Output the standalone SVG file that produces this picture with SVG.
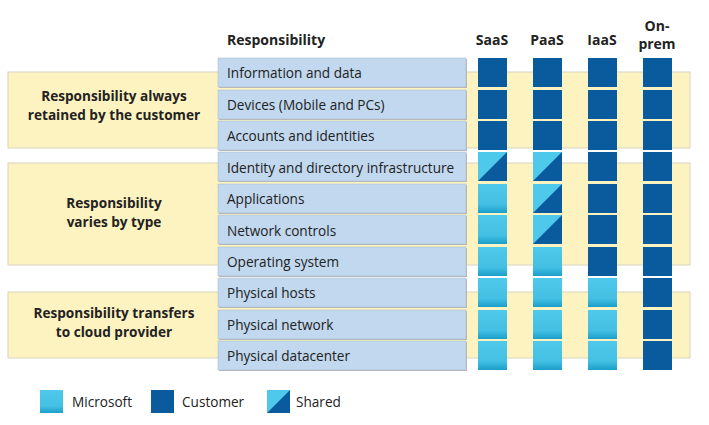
<svg xmlns="http://www.w3.org/2000/svg" width="709" height="425" viewBox="0 0 709 425">
<defs>
<linearGradient id="ms" x1="0" y1="0" x2="0" y2="1"><stop offset="0" stop-color="#4fc9eb"/><stop offset="0.7" stop-color="#44c0e4"/><stop offset="1" stop-color="#1a9fca"/></linearGradient>
<symbol id="M" viewBox="0 0 29 29"><rect width="29" height="29" fill="url(#ms)"/></symbol>
<symbol id="C" viewBox="0 0 29 29"><rect width="29" height="29" fill="#0a5b9d"/></symbol>
<symbol id="S" viewBox="0 0 29 29"><rect width="29" height="29" fill="#0a5b9d"/><polygon points="0,0 29,0 0,29" fill="#4fc9eb"/></symbol>
</defs>
<style>
.band{fill:#fdf3c0;stroke:#d8d4c0;stroke-width:1}
.row{fill:#c1d8ee;stroke:#a9b9c9;stroke-width:0.5}
.sh{fill:#b9b9b9}
text{font-family:"Open Sans","Noto Sans","Liberation Sans",sans-serif;fill:#222}
.t{font-size:13.6px}
.h{font-size:14px;font-weight:bold}
.g{font-size:13.6px;font-weight:bold;text-anchor:middle}
</style>
<rect width="709" height="425" fill="#fff"/>
<g id="bands">
<rect class="band" x="8" y="72" width="682" height="76"/>
<rect class="band" x="8" y="163" width="682" height="102"/>
<rect class="band" x="8" y="292" width="682" height="66"/>
</g>
<g id="group-labels">
<text class="g" x="114" y="101">Responsibility always</text>
<text class="g" x="114" y="120">retained by the customer</text>
<text class="g" x="114" y="208">Responsibility</text>
<text class="g" x="114" y="227">varies by type</text>
<text class="g" x="114" y="318">Responsibility transfers</text>
<text class="g" x="114" y="337">to cloud provider</text>
</g>
<g id="headers">
<text class="h" x="227" y="45">Responsibility</text>
<text class="h" x="492" y="45" text-anchor="middle">SaaS</text>
<text class="h" x="547" y="45" text-anchor="middle">PaaS</text>
<text class="h" x="602" y="45" text-anchor="middle">IaaS</text>
<text class="h" x="657" y="31" text-anchor="middle">On-</text>
<text class="h" x="657" y="49" text-anchor="middle">prem</text>
</g>
<g id="rows">
<g id="r0"><rect class="sh" x="219" y="59" width="248" height="29"/><rect class="row" x="218" y="58" width="248" height="29"/><text class="t" x="227" y="78">Information and data</text></g>
<g id="r1"><rect class="sh" x="219" y="91" width="248" height="29"/><rect class="row" x="218" y="90" width="248" height="29"/><text class="t" x="227" y="110">Devices (Mobile and PCs)</text></g>
<g id="r2"><rect class="sh" x="219" y="122" width="248" height="29"/><rect class="row" x="218" y="121" width="248" height="29"/><text class="t" x="227" y="141">Accounts and identities</text></g>
<g id="r3"><rect class="sh" x="219" y="153" width="248" height="29"/><rect class="row" x="218" y="152" width="248" height="29"/><text class="t" x="227" y="173">Identity and directory infrastructure</text></g>
<g id="r4"><rect class="sh" x="219" y="185" width="248" height="29"/><rect class="row" x="218" y="184" width="248" height="29"/><text class="t" x="227" y="204">Applications</text></g>
<g id="r5"><rect class="sh" x="219" y="216" width="248" height="29"/><rect class="row" x="218" y="215" width="248" height="29"/><text class="t" x="227" y="236">Network controls</text></g>
<g id="r6"><rect class="sh" x="219" y="248" width="248" height="29"/><rect class="row" x="218" y="247" width="248" height="29"/><text class="t" x="227" y="267">Operating system</text></g>
<g id="r7"><rect class="sh" x="219" y="279" width="248" height="29"/><rect class="row" x="218" y="278" width="248" height="29"/><text class="t" x="227" y="298">Physical hosts</text></g>
<g id="r8"><rect class="sh" x="219" y="311" width="248" height="29"/><rect class="row" x="218" y="310" width="248" height="29"/><text class="t" x="227" y="330">Physical network</text></g>
<g id="r9"><rect class="sh" x="219" y="342" width="248" height="29"/><rect class="row" x="218" y="341" width="248" height="29"/><text class="t" x="227" y="361">Physical datacenter</text></g>
</g>
<g id="cells">
<use href="#C" x="478" y="58" width="29" height="29"/><use href="#C" x="533" y="58" width="29" height="29"/><use href="#C" x="588" y="58" width="29" height="29"/><use href="#C" x="643" y="58" width="29" height="29"/>
<use href="#C" x="478" y="90" width="29" height="29"/><use href="#C" x="533" y="90" width="29" height="29"/><use href="#C" x="588" y="90" width="29" height="29"/><use href="#C" x="643" y="90" width="29" height="29"/>
<use href="#C" x="478" y="121" width="29" height="29"/><use href="#C" x="533" y="121" width="29" height="29"/><use href="#C" x="588" y="121" width="29" height="29"/><use href="#C" x="643" y="121" width="29" height="29"/>
<use href="#S" x="478" y="152" width="29" height="29"/><use href="#S" x="533" y="152" width="29" height="29"/><use href="#C" x="588" y="152" width="29" height="29"/><use href="#C" x="643" y="152" width="29" height="29"/>
<use href="#M" x="478" y="184" width="29" height="29"/><use href="#S" x="533" y="184" width="29" height="29"/><use href="#C" x="588" y="184" width="29" height="29"/><use href="#C" x="643" y="184" width="29" height="29"/>
<use href="#M" x="478" y="215" width="29" height="29"/><use href="#S" x="533" y="215" width="29" height="29"/><use href="#C" x="588" y="215" width="29" height="29"/><use href="#C" x="643" y="215" width="29" height="29"/>
<use href="#M" x="478" y="247" width="29" height="29"/><use href="#M" x="533" y="247" width="29" height="29"/><use href="#C" x="588" y="247" width="29" height="29"/><use href="#C" x="643" y="247" width="29" height="29"/>
<use href="#M" x="478" y="278" width="29" height="29"/><use href="#M" x="533" y="278" width="29" height="29"/><use href="#M" x="588" y="278" width="29" height="29"/><use href="#C" x="643" y="278" width="29" height="29"/>
<use href="#M" x="478" y="310" width="29" height="29"/><use href="#M" x="533" y="310" width="29" height="29"/><use href="#M" x="588" y="310" width="29" height="29"/><use href="#C" x="643" y="310" width="29" height="29"/>
<use href="#M" x="478" y="341" width="29" height="29"/><use href="#M" x="533" y="341" width="29" height="29"/><use href="#M" x="588" y="341" width="29" height="29"/><use href="#C" x="643" y="341" width="29" height="29"/>
</g>
<g id="legend">
<use href="#M" x="40" y="390" width="23" height="23"/><text class="t" x="72" y="407">Microsoft</text>
<use href="#C" x="151" y="390" width="23" height="23"/><text class="t" x="182" y="407">Customer</text>
<use href="#S" x="267" y="390" width="23" height="23"/><text class="t" x="296" y="407">Shared</text>
</g>
</svg>
